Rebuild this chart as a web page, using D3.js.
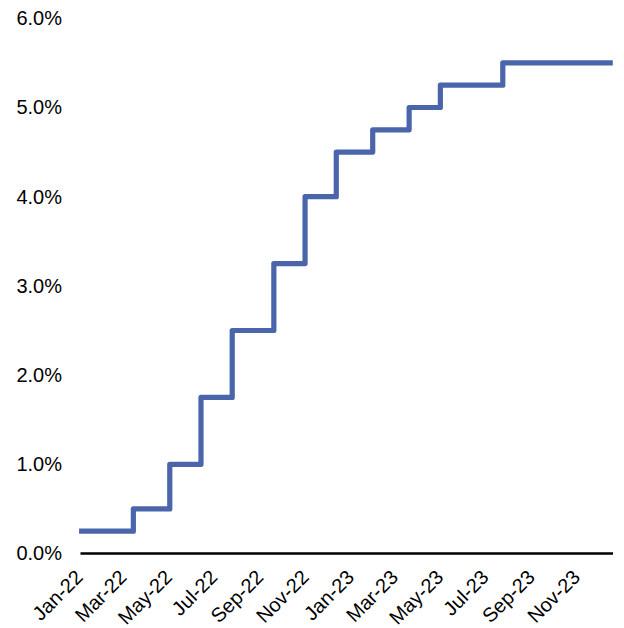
<!DOCTYPE html>
<html>
<head>
<meta charset="utf-8">
<script src="https://cdn.jsdelivr.net/npm/d3@7"></script>
<style>
  html, body { margin: 0; padding: 0; background: #ffffff; }
  svg { display: block; }
  text { font-family: "Liberation Sans", Arial, sans-serif; fill: #000; }
</style>
</head>
<body>
<svg id="chart" width="624" height="628"></svg>
<script>
// Policy rate (upper bound, %) — dates on which the rate changed
const changeDates = [
  "2022-01-03", "2022-03-17", "2022-05-05", "2022-06-16", "2022-07-28",
  "2022-09-22", "2022-11-03", "2022-12-15", "2023-02-02", "2023-03-23",
  "2023-05-04", "2023-07-27", "2023-12-22"
];
const rateValues = [
  0.25, 0.50, 1.00, 1.75, 2.50,
  3.25, 4.00, 4.50, 4.75, 5.00,
  5.25, 5.50, 5.50
];
// Axis labels
const xTickDates = [
  "2022-01-01", "2022-03-01", "2022-05-01", "2022-07-01", "2022-09-01", "2022-11-01",
  "2023-01-01", "2023-03-01", "2023-05-01", "2023-07-01", "2023-09-01", "2023-11-01"
];
const yTickValues = [0, 1, 2, 3, 4, 5, 6];

const parse = d3.timeParse("%Y-%m-%d");
const series = changeDates.map((d, i) => ({ date: parse(d), value: rateValues[i] }));

const svg = d3.select("#chart");

const x = d3.scaleTime()
  .domain([parse("2022-01-01"), parse("2023-12-22")])
  .range([77.6, 612.8]);

const y = d3.scaleLinear()
  .domain([0, 6])
  .range([553.5, 18.3]);

// Y axis labels (no axis line)
const yAxis = d3.axisLeft(y)
  .tickValues(yTickValues)
  .tickFormat(d => d3.format(".1f")(d) + "%")
  .tickSize(0)
  .tickPadding(0);

svg.append("g")
  .attr("transform", "translate(62,0)")
  .call(yAxis)
  .call(g => g.select(".domain").remove())
  .call(g => g.selectAll("text")
    .attr("font-size", 20)
    .attr("font-family", "Liberation Sans, Arial, sans-serif")
    .attr("fill", "#000"));

// X axis: baseline plus rotated month labels
const xAxis = d3.axisBottom(x)
  .tickValues(xTickDates.map(parse))
  .tickFormat(d3.timeFormat("%b-%y"))
  .tickSize(0)
  .tickPadding(0);

svg.append("g")
  .attr("transform", "translate(0,553.5)")
  .call(xAxis)
  .call(g => g.select(".domain")
    .attr("stroke", "#000")
    .attr("stroke-width", 2.3)
    .attr("d", "M80.5,0H613"))
  .call(g => g.selectAll("text")
    .attr("font-size", 20)
    .attr("font-family", "Liberation Sans, Arial, sans-serif")
    .attr("fill", "#000")
    .attr("text-anchor", "end")
    .attr("dy", null)
    .attr("y", 0)
    .attr("transform", "translate(6,25) rotate(-45)"));

// Step line
const line = d3.line()
  .x(d => x(d.date))
  .y(d => y(d.value))
  .curve(d3.curveStepAfter);

svg.append("path")
  .datum(series)
  .attr("fill", "none")
  .attr("stroke", "#4a65aa")
  .attr("stroke-width", 5.2)
  .attr("stroke-linejoin", "round")
  .attr("stroke-linecap", "butt")
  .attr("d", line);
</script>
</body>
</html>
